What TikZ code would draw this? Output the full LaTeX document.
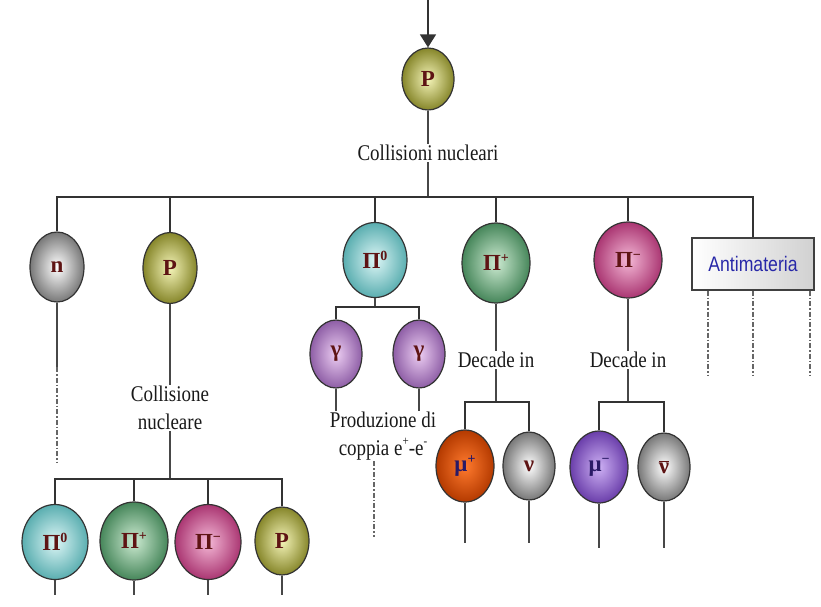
\documentclass[tikz,border=0pt]{standalone}
\usepackage{fontspec}
\setmainfont{Liberation Serif}
\newfontfamily\boxfont{Liberation Sans}
\usetikzlibrary{shapes.geometric,arrows.meta}
\definecolor{txtred}{HTML}{5E1414}
\definecolor{txtblue}{HTML}{2A1A66}
\definecolor{olvI}{HTML}{F4F4B8}
\definecolor{olvO}{HTML}{86862A}
\definecolor{gryI}{HTML}{FFFFFF}
\definecolor{gryO}{HTML}{787878}
\definecolor{cyaI}{HTML}{DDF6F6}
\definecolor{cyaO}{HTML}{5AAEB0}
\definecolor{grnI}{HTML}{CDEBD2}
\definecolor{grnO}{HTML}{46865A}
\definecolor{pnkI}{HTML}{F4B8D6}
\definecolor{pnkO}{HTML}{AA3672}
\definecolor{vioI}{HTML}{ECCDF2}
\definecolor{vioO}{HTML}{8E5EA6}
\definecolor{orgI}{HTML}{FF7A2E}
\definecolor{orgO}{HTML}{B43A00}
\definecolor{purI}{HTML}{CDB0F4}
\definecolor{purO}{HTML}{6A3EAA}
\definecolor{boxtxt}{HTML}{2828A8}
\newcommand{\upsc}[1]{\raisebox{8pt}{\fontsize{14}{14}\selectfont #1}}
\newcommand{\tallt}[1]{\scalebox{1}[1.18]{#1}}
\begin{document}
\begin{tikzpicture}[x=1pt,y=-1pt,
  ball/.style={ellipse, draw=black!80, line width=1.2pt, inner sep=0pt,
    font=\fontsize{23}{26}\selectfont\bfseries, text=txtred},
  olive/.style={inner color=olvI, outer color=olvO},
  grey/.style={inner color=gryI, outer color=gryO},
  cyan/.style={inner color=cyaI, outer color=cyaO},
  green/.style={inner color=grnI, outer color=grnO},
  pink/.style={inner color=pnkI, outer color=pnkO},
  violet/.style={inner color=vioI, outer color=vioO},
  orange/.style={inner color=orgI, outer color=orgO},
  purple/.style={inner color=purI, outer color=purO},
  lbl/.style={inner sep=1pt, font=\fontsize{19}{28}\selectfont, text=black!90, align=center},
  conn/.style={draw=black!72, line width=1.4pt},
  busl/.style={draw=black!80, line width=1.7pt},
  dashc/.style={draw=black!60, line width=1.4pt, dash pattern=on 5pt off 2pt on 1.5pt off 2pt}
]
\useasboundingbox (0,0) rectangle (821,606);

% top
\coordinate (top) at (428,0);
\node[ball, olive, minimum width=52pt, minimum height=62pt] (P0) at (428,79) {P};
\draw[conn, draw=black!80, -{Triangle[width=16pt,length=13pt]}] (top) -- (P0.north);
\node[lbl] (L1) at (428,153) {\tallt{Collisioni nucleari}};
\draw[conn] (P0.south) -- (L1.north);
\coordinate (b1) at (428,197);
\draw[conn] (L1.south) -- (b1);

% first row
\node[ball, grey, minimum width=54pt, minimum height=70pt] (n) at (57,267) {n};
\node[ball, olive, minimum width=54pt, minimum height=71pt] (P1) at (170,268) {P};
\node[ball, cyan, minimum width=64pt, minimum height=75pt] (pi0) at (375,260) {Π\upsc{0}};
\node[ball, green, minimum width=68pt, minimum height=80pt] (pip) at (496,263) {Π\upsc{+}};
\node[ball, pink, minimum width=68pt, minimum height=76pt] (pim) at (628,260) {Π\upsc{−}};
\node[draw=black!75, line width=1.4pt, left color=white, right color=black!18,
      minimum width=122pt, minimum height=52pt, inner sep=0pt] (am) at (753,264)
      {\boxfont\fontsize{21}{24}\selectfont\color{boxtxt}\scalebox{0.84}[1]{Antimateria}};

\draw[busl] (b1) -| (n.north);
\draw[busl] (b1) -| (P1.north);
\draw[busl] (b1) -| (pi0.north);
\draw[busl] (b1) -| (pip.north);
\draw[busl] (b1) -| (pim.north);
\draw[busl] (b1) -| (am.north);

% antimateria dashes
\coordinate (a1) at (708,375);
\coordinate (a2) at (753,375);
\coordinate (a3) at (810,375);
\draw[dashc] (am.south -| a1) -- (a1);
\draw[dashc] (am.south -| a2) -- (a2);
\draw[dashc] (am.south -| a3) -- (a3);

% n branch
\coordinate (nd1) at (57,367);
\coordinate (nd2) at (57,463);
\draw[conn] (n.south) -- (nd1);
\draw[dashc] (nd1) -- (nd2);

% P branch
\node[lbl] (L2) at (170,408) {\tallt{Collisione}\\\tallt{nucleare}};
\draw[conn] (P1.south) -- (L2.north);
\coordinate (b2) at (170,479);
\draw[conn] (L2.south) -- (b2);
\node[ball, cyan, minimum width=66pt, minimum height=75pt] (q1) at (55,542) {Π\upsc{0}};
\node[ball, green, minimum width=68pt, minimum height=78pt] (q2) at (134,541) {Π\upsc{+}};
\node[ball, pink, minimum width=66pt, minimum height=75pt] (q3) at (208,542) {Π\upsc{−}};
\node[ball, olive, minimum width=54pt, minimum height=68pt] (q4) at (282,541) {P};
\draw[busl] (b2) -| (q1.north);
\draw[busl] (b2) -| (q2.north);
\draw[busl] (b2) -| (q3.north);
\draw[busl] (b2) -| (q4.north);
\coordinate (e1) at (55,595);
\coordinate (e2) at (134,595);
\coordinate (e3) at (208,595);
\coordinate (e4) at (282,595);
\draw[conn] (q1.south) -- (e1);
\draw[conn] (q2.south) -- (e2);
\draw[conn] (q3.south) -- (e3);
\draw[conn] (q4.south) -- (e4);

% pi0 branch
\coordinate (b3) at (375,307);
\draw[conn] (pi0.south) -- (b3);
\node[ball, violet, minimum width=52pt, minimum height=68pt] (g1) at (336,354) {γ};
\node[ball, violet, minimum width=52pt, minimum height=68pt] (g2) at (419,354) {γ};
\draw[busl] (b3) -| (g1.north);
\draw[busl] (b3) -| (g2.north);
\node[lbl] (L3) at (383,436) {\tallt{Produzione di}\\\tallt{coppia e\upsc{\fontsize{11}{11}\selectfont +}-e\upsc{\fontsize{11}{11}\selectfont -}}};
\draw[conn] (g1.south) -- (g1.south |- L3.north);
\draw[conn] (g2.south) -- (g2.south |- L3.north);
\coordinate (pd) at (374,537);
\draw[dashc] (L3.south -| pd) -- (pd);

% pi+ branch
\node[lbl] (L4) at (496,360) {\tallt{Decade in}};
\draw[conn] (pip.south) -- (L4.north);
\coordinate (b4) at (496,402);
\draw[conn] (L4.south) -- (b4);
\node[ball, orange, minimum width=58pt, minimum height=72pt, text=txtblue] (m1) at (465,466) {μ\upsc{+}};
\node[ball, grey, minimum width=52pt, minimum height=68pt] (v1) at (529,466) {ν};
\draw[busl] (b4) -| (m1.north);
\draw[busl] (b4) -| (v1.north);
\coordinate (f1) at (465,543);
\coordinate (f2) at (529,543);
\draw[conn] (m1.south) -- (f1);
\draw[conn] (v1.south) -- (f2);

% pi- branch
\node[lbl] (L5) at (628,360) {\tallt{Decade in}};
\draw[conn] (pim.south) -- (L5.north);
\coordinate (b5) at (628,402);
\draw[conn] (L5.south) -- (b5);
\node[ball, purple, minimum width=58pt, minimum height=72pt, text=txtblue] (m2) at (599,467) {μ\upsc{−}};
\node[ball, grey, minimum width=52pt, minimum height=68pt] (v2) at (664,467) {$\overline{\mbox{ν}}$};
\draw[busl] (b5) -| (m2.north);
\draw[busl] (b5) -| (v2.north);
\coordinate (f3) at (599,548);
\coordinate (f4) at (664,548);
\draw[conn] (m2.south) -- (f3);
\draw[conn] (v2.south) -- (f4);
\end{tikzpicture}
\end{document}
